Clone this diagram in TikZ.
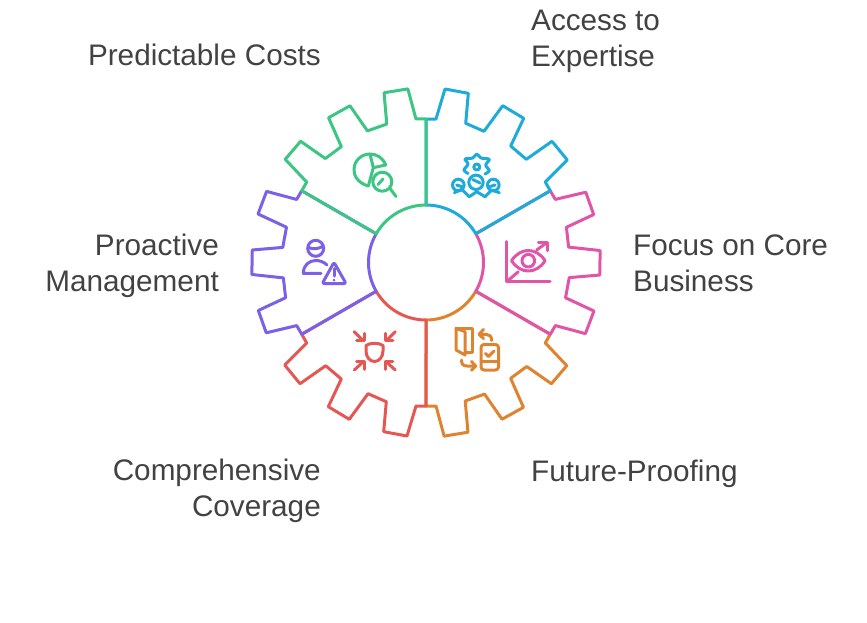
\documentclass[tikz,border=0pt]{standalone}
\usepackage{fontspec}
\setmainfont{Liberation Sans}
\definecolor{cgreen}{HTML}{3CC583}
\definecolor{cblue}{HTML}{1EABDA}
\definecolor{cpink}{HTML}{E055A8}
\definecolor{corange}{HTML}{DE8431}
\definecolor{cred}{HTML}{E55753}
\definecolor{cpurple}{HTML}{7B60E8}
\definecolor{ctext}{HTML}{424242}
\tikzset{
  sectorline/.style={line width=3pt,line join=round,line cap=round},
  iconline/.style={line width=3pt,line join=round,line cap=round},
  rlabel/.style={anchor=east,align=right,inner sep=0pt,text=ctext,font=\fontsize{29.7}{36}\selectfont},
  llabel/.style={anchor=west,align=left,inner sep=0pt,text=ctext,font=\fontsize{29.7}{36}\selectfont},
}
\newcommand{\gearsector}[2]{%
  \draw[sectorline,color=#2,rotate around={#1:(426,262.5)}]
    (426,205) -- (426,119) -- (436,119) -- (445,89) -- (468.3,93.3) -- (465.7,123.3)
    -- (484,131.3) -- (502.7,105.7) -- (523.7,118.3) -- (510.7,146) -- (526.3,159.3)
    -- (552,141.3) -- (567.3,160) -- (545.3,182) -- (550.3,190.75) -- (475.8,233.75)
    arc[start angle=-30,end angle=-90,radius=57.5] -- cycle;}
\begin{document}
\begin{tikzpicture}[x=1pt,y=-1pt]
\useasboundingbox (0,0) rectangle (867,622);
\gearsector{-120}{corange}
\gearsector{-60}{cpink}
\gearsector{0}{cblue}
\gearsector{-180}{cred}
\gearsector{-240}{cpurple}
\gearsector{60}{cgreen}
% green icon
\begin{scope}[iconline,color=cgreen]
  \draw (368.3,186) .. controls (358,183) and (354,176) .. (354,170) .. controls (354,160) and (362,154) .. (370,154) .. controls (377,154) and (383,158) .. (385.7,165);
  \draw (370,154) -- (373.3,167.7) -- (385.7,165);
  \draw (373.3,167.7) -- (368.3,186);
  \draw (382.3,181.7) circle[radius=9.5];
  \draw (390,188.5) -- (396,196.5);
  \draw (378,184.5) -- (383,179);
\end{scope}
% blue icon
\begin{scope}[iconline,color=cblue]
  \draw plot[smooth,tension=0.5] coordinates {(468,173.5) (464,170) (468,164) (465,159) (472.7,158) (476.8,154) (481,158) (489.3,159.3) (485.7,165) (489.3,170.7) (485,174)};
  \draw (476.8,167) circle[radius=3];
  \draw (458.3,185) circle[radius=5.8];
  \draw (476,182.3) circle[radius=7.2];
  \draw (493.3,185) circle[radius=5.8];
  \draw (456.7,185) -- (462,186.7);
  \draw (472.7,179.5) -- (480,183);
  \draw (489.5,186.7) -- (495,185);
  \draw (454.3,192.7) -- (461.7,189.3) -- (469.3,196.7) -- (476.7,191.7) -- (485,196.7) -- (491.7,190) -- (499.3,192.7);
\end{scope}
% pink icon
\begin{scope}[iconline,color=cpink]
  \draw (506.7,241.7) -- (506.7,281.7) -- (550,281.7);
  \draw (506.7,281.7) -- (518.3,271.7);
  \draw (536.7,250) -- (546.7,242.7);
  \draw (538.3,242.7) -- (547.7,242.7) -- (547.7,250.7);
  \draw (511.5,260.7) .. controls (516,254) and (522,250.5) .. (528.3,250.5) .. controls (534.5,250.5) and (541,254) .. (545,260.7) .. controls (541,267.5) and (534.5,271) .. (528.3,271) .. controls (522,271) and (516,267.5) .. (511.5,260.7) -- cycle;
  \draw (528.3,260.7) circle[radius=6.3];
\end{scope}
% orange icon
\begin{scope}[iconline,color=corange]
  \draw (456,328.3) -- (465,331.7) -- (465,355) -- (456,350) -- cycle;
  \draw (456,328.3) -- (472,328.3) -- (472,352) -- (465,352);
  \draw[rounded corners=3pt] (481,344.5) rectangle (498.5,370);
  \draw (481,361.7) -- (498.5,361.7);
  \draw (485.5,353.5) -- (488.5,356.5) -- (494,351);
  \draw (491.7,340.5) .. controls (491.7,336) and (489,334.3) .. (486,334.3) -- (479.5,334.3);
  \draw (483.5,329.5) -- (479,334.3) -- (483.5,338.5);
  \draw (461.5,360) .. controls (461.5,364) and (463,366) .. (467,366) -- (475.5,366);
  \draw (471.5,361.5) -- (475.7,366) -- (471.5,370.2);
\end{scope}
% red icon
\begin{scope}[iconline,color=cred]
  \draw (366,345.5) .. controls (370,342.5) and (379,342.5) .. (383,345.5) -- (383,351) .. controls (383,357) and (379,361.5) .. (374.5,361.5) .. controls (370,361.5) and (366,357) .. (366,351) -- cycle;
  \draw (354.3,331.7) -- (363.3,340.7);
  \draw (356.7,340.7) -- (364.3,340.7) -- (364.3,333.3);
  \draw (395.2,331.7) -- (386.2,340.7);
  \draw (392.8,340.7) -- (385.2,340.7) -- (385.2,333.3);
  \draw (354.3,370) -- (363.3,361.7);
  \draw (356.7,361.7) -- (364.3,361.7) -- (364.3,369.3);
  \draw (395.2,370) -- (386.2,361.7);
  \draw (392.8,361.7) -- (385.2,361.7) -- (385.2,369.3);
\end{scope}
% purple icon
\begin{scope}[iconline,color=cpurple]
  \draw (315.7,248.3) circle[radius=8];
  \draw (308.5,247.5) .. controls (313,249.5) and (318,249) .. (322.5,246.5);
  \draw (321,273.3) -- (303.3,273.3) .. controls (303.5,265) and (309,260.5) .. (316,260.5) .. controls (320,260.5) and (324,262) .. (327,265);
  \draw[rounded corners=2pt] (334,262.3) -- (346,283.5) -- (322.3,283.5) -- cycle;
  \draw (334,268.5) -- (334,276);
  \fill (334,280) circle[radius=1.5];
\end{scope}
% labels
\node[rlabel] (costs) at (321,55) {Predictable Costs};
\node[llabel] (expertise) at (531,41) {Access to\\Expertise};
\node[llabel] (focus) at (633,263) {Focus on Core\\Business};
\node[llabel] (future) at (531,474) {Future-Proofing};
\node[rlabel] (coverage) at (321,491) {Comprehensive\\Coverage};
\node[rlabel] (proactive) at (219,266) {Proactive\\Management};
\end{tikzpicture}
\end{document}
